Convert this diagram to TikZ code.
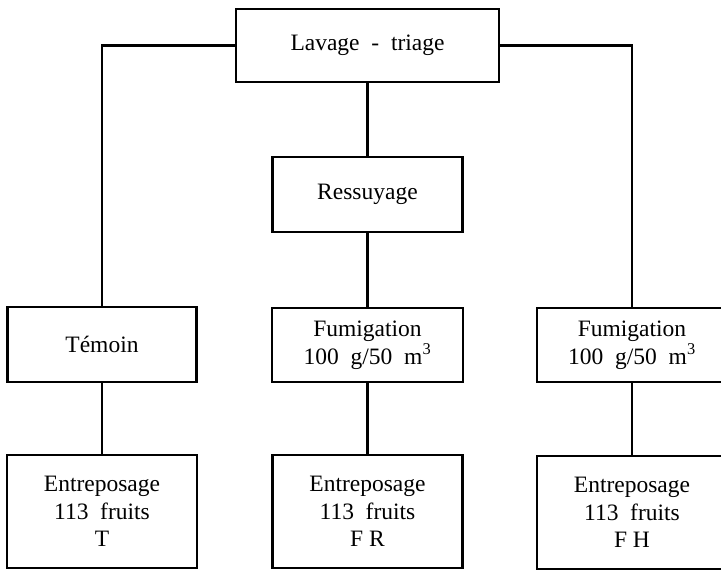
\documentclass[tikz,border=0pt]{standalone}
\usepackage{fontspec}
\setmainfont{Liberation Serif}
\begin{document}
\begin{tikzpicture}[x=1pt,y=-1pt,
  box/.style={draw=black, line width=2.8pt, rectangle, inner sep=0pt, align=center,
    font=\fontsize{23.5}{27.5}\selectfont},
  conn/.style={draw=black, line width=2.8pt}]
\useasboundingbox (0,0) rectangle (721,571);
\node[box, minimum width=263pt, minimum height=73pt] (top) at (367.5,45.5) {Lavage\ \ -\ \ triage};
\node[box, minimum width=190pt, minimum height=75pt] (ress) at (367.5,194.5) {Ressuyage};
\node[box, minimum width=189pt, minimum height=75pt] (tem) at (102,344.5) {Témoin};
\node[box, minimum width=191pt, minimum height=74pt] (fumc) at (367.5,345) {Fumigation\\100\ \ g/50\ \ m\textsuperscript{3}};
\node[box, minimum width=190pt, minimum height=74pt] (fumr) at (632,345) {Fumigation\\100\ \ g/50\ \ m\textsuperscript{3}};
\node[box, minimum width=190pt, minimum height=113pt] (ent) at (102,511.5) {Entreposage\\113\ \ fruits\\T};
\node[box, minimum width=190pt, minimum height=113pt] (enc) at (367.5,511.5) {Entreposage\\113\ \ fruits\\F R};
\node[box, minimum width=190pt, minimum height=113pt] (enr) at (632,512.5) {Entreposage\\113\ \ fruits\\F H};
\draw[conn] (top.west) -| (tem.north);
\draw[conn] (top.east) -| (fumr.north);
\draw[conn] (top.south) -- (ress.north);
\draw[conn] (ress.south) -- (fumc.north);
\draw[conn] (tem.south) -- (ent.north);
\draw[conn] (fumc.south) -- (enc.north);
\draw[conn] (fumr.south) -- (enr.north);
\end{tikzpicture}
\end{document}
